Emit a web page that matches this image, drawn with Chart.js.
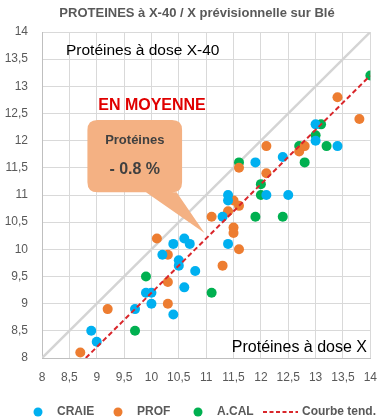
<!DOCTYPE html>
<html>
<head>
<meta charset="utf-8">
<script src="https://cdn.jsdelivr.net/npm/chart.js@4/dist/chart.umd.min.js"></script>
<style>
  body { margin: 0; background: #fff; }
  #wrap { width: 389px; height: 420px; position: relative; }
</style>
</head>
<body>
<div id="wrap"><canvas id="chart"></canvas></div>
<script>
// Protéines à dose X (x) vs à dose X-40 (y)
const craieX = [8.9, 9.0, 9.7, 9.9, 10.0, 10.0, 10.4, 10.2, 10.4, 10.6, 10.7, 10.5, 10.5, 10.8, 10.6, 11.3, 11.4, 11.4, 11.4, 11.9, 12.1, 12.5, 12.4, 13.0, 13.0, 13.4];
const craieY = [8.5, 8.3, 8.9, 9.2, 9.2, 9.0, 8.8, 9.9, 10.1, 10.2, 10.1, 9.8, 9.7, 9.6, 9.3, 10.6, 11.0, 10.9, 10.1, 11.6, 11.0, 11.0, 11.7, 12.3, 12.0, 11.9];
const profX = [8.7, 9.2, 10.3, 10.3, 10.1, 10.3, 11.1, 11.3, 11.5, 11.5, 11.6, 11.4, 11.5, 11.6, 11.6, 12.1, 12.1, 12.7, 12.8, 13.4, 13.8];
const profY = [8.1, 8.9, 9.0, 9.4, 10.2, 9.9, 10.6, 9.7, 10.4, 10.3, 10.0, 10.7, 10.9, 10.8, 11.5, 11.9, 11.4, 11.8, 11.9, 12.8, 12.4];
const acalX = [9.7, 9.9, 11.1, 11.6, 11.9, 12.0, 12.0, 12.4, 12.7, 12.8, 13.0, 13.1, 13.2, 14.0];
const acalY = [8.5, 9.5, 9.2, 11.6, 10.6, 11.2, 11.0, 10.6, 11.9, 11.6, 12.1, 12.3, 11.9, 13.2];
const trendX = [8.8, 14];
const trendY = [8.0, 13.2];
const diagX = [8, 14];
const diagY = [8, 14];

const zip = (xs, ys) => xs.map((x, i) => ({ x: x, y: ys[i] }));
const FONT = "'Liberation Sans', Arial, sans-serif";
const RED = '#D9262B';

// titles, callout and legend drawn on the canvas
const extras = {
  id: 'extras',
  afterDatasetsDraw(chart) {
    const { ctx } = chart;
    const x = chart.scales.x, y = chart.scales.y;
    ctx.save();

    // corner labels
    ctx.fillStyle = '#000';
    ctx.font = '15.5px ' + FONT;
    ctx.textAlign = 'left';
    ctx.textBaseline = 'alphabetic';
    ctx.fillText('Protéines à dose X-40', 66, 55);
    ctx.font = '16px ' + FONT;
    ctx.textAlign = 'right';
    ctx.fillText('Protéines à dose X', 367, 352);

    // EN MOYENNE
    ctx.fillStyle = '#E00000';
    ctx.font = 'bold 16px ' + FONT;
    ctx.textAlign = 'center';
    ctx.textBaseline = 'middle';
    ctx.fillText('EN MOYENNE', 152, 106);

    // callout
    const l = x.getPixelForValue(8.83), r = x.getPixelForValue(10.56);
    const t = y.getPixelForValue(12.38), b = y.getPixelForValue(11.05);
    const b1 = x.getPixelForValue(9.9), b2 = x.getPixelForValue(10.46);
    const tipX = x.getPixelForValue(10.97), tipY = y.getPixelForValue(10.3);
    const rad = 10;
    ctx.fillStyle = '#F4B183';
    ctx.beginPath();
    ctx.moveTo(l + rad, t);
    ctx.lineTo(r - rad, t);
    ctx.quadraticCurveTo(r, t, r, t + rad);
    ctx.lineTo(r, b - rad);
    ctx.quadraticCurveTo(r, b, r - rad, b);
    ctx.lineTo(b2, b);
    ctx.lineTo(tipX, tipY);
    ctx.lineTo(b1, b);
    ctx.lineTo(l + rad, b);
    ctx.quadraticCurveTo(l, b, l, b - rad);
    ctx.lineTo(l, t + rad);
    ctx.quadraticCurveTo(l, t, l + rad, t);
    ctx.closePath();
    ctx.fill();

    const cx = (l + r) / 2;
    ctx.fillStyle = '#404040';
    ctx.font = 'bold 13px ' + FONT;
    ctx.fillText('Protéines', cx, 140);
    ctx.font = 'bold 16px ' + FONT;
    ctx.fillText('- 0.8 %', cx, 170);
    ctx.restore();
  },
  afterDraw(chart) {
    const { ctx } = chart;
    ctx.save();
    // title
    ctx.fillStyle = '#595959';
    ctx.font = 'bold 13px ' + FONT;
    ctx.textAlign = 'center';
    ctx.textBaseline = 'middle';
    ctx.fillText('PROTEINES à X-40 / X prévisionnelle sur Blé', 197, 13);

    // legend
    const ly = 412;
    ctx.font = 'bold 12px ' + FONT;
    ctx.textAlign = 'left';
    const items = [
      { label: 'CRAIE', color: '#00B0F0', cx: 38 },
      { label: 'PROF', color: '#ED7D31', cx: 118 },
      { label: 'A.CAL', color: '#00B050', cx: 198 }
    ];
    items.forEach(it => {
      ctx.fillStyle = it.color;
      ctx.beginPath();
      ctx.arc(it.cx, ly, 4.5, 0, Math.PI * 2);
      ctx.fill();
      ctx.fillStyle = '#595959';
      ctx.fillText(it.label, it.cx + 19, ly);
    });
    ctx.strokeStyle = RED;
    ctx.lineWidth = 2;
    ctx.setLineDash([4, 2.5]);
    ctx.beginPath();
    ctx.moveTo(263, ly);
    ctx.lineTo(298, ly);
    ctx.stroke();
    ctx.setLineDash([]);
    ctx.fillStyle = '#595959';
    ctx.fillText('Courbe tend.', 302, ly);
    ctx.restore();
  }
};

const pointSet = (label, xs, ys, color) => ({
  label: label,
  data: zip(xs, ys),
  backgroundColor: color,
  borderWidth: 0,
  pointRadius: 5,
  pointHoverRadius: 5,
  order: 1
});

new Chart(document.getElementById('chart'), {
  type: 'scatter',
  data: {
    datasets: [
      {
        label: 'diag',
        data: zip(diagX, diagY),
        showLine: true,
        borderColor: '#D4D4D4',
        borderWidth: 2.5,
        pointRadius: 0,
        order: 3
      },
      pointSet('CRAIE', craieX, craieY, '#00B0F0'),
      pointSet('PROF', profX, profY, '#ED7D31'),
      pointSet('A.CAL', acalX, acalY, '#00B050'),
      {
        label: 'Courbe tend.',
        data: zip(trendX, trendY),
        showLine: true,
        borderColor: RED,
        borderWidth: 2,
        borderDash: [5, 3],
        pointRadius: 0,
        order: 0
      }
    ]
  },
  options: {
    responsive: true,
    maintainAspectRatio: false,
    animation: false,
    layout: { padding: { top: 32, right: 15, bottom: 32, left: 0 } },
    plugins: {
      legend: { display: false },
      title: { display: false },
      tooltip: { enabled: false }
    },
    scales: {
      x: {
        type: 'linear',
        min: 8,
        max: 14,
        afterFit: s => { s.height = 30; },
        ticks: {
          stepSize: 0.5,
          padding: 12,
          maxRotation: 0,
          minRotation: 0,
          autoSkip: false,
          color: '#595959',
          font: { family: FONT, size: 12 },
          callback: v => String(v).replace('.', ',')
        },
        grid: { color: '#D9D9D9', drawTicks: false },
        border: { color: '#BFBFBF' }
      },
      y: {
        type: 'linear',
        min: 8,
        max: 14,
        afterFit: s => { s.width = 42; },
        ticks: {
          stepSize: 0.5,
          padding: 14,
          color: '#595959',
          font: { family: FONT, size: 12 },
          callback: v => String(v).replace('.', ',')
        },
        grid: { color: '#D9D9D9', drawTicks: false },
        border: { color: '#BFBFBF' }
      }
    }
  },
  plugins: [extras]
});
</script>
</body>
</html>
